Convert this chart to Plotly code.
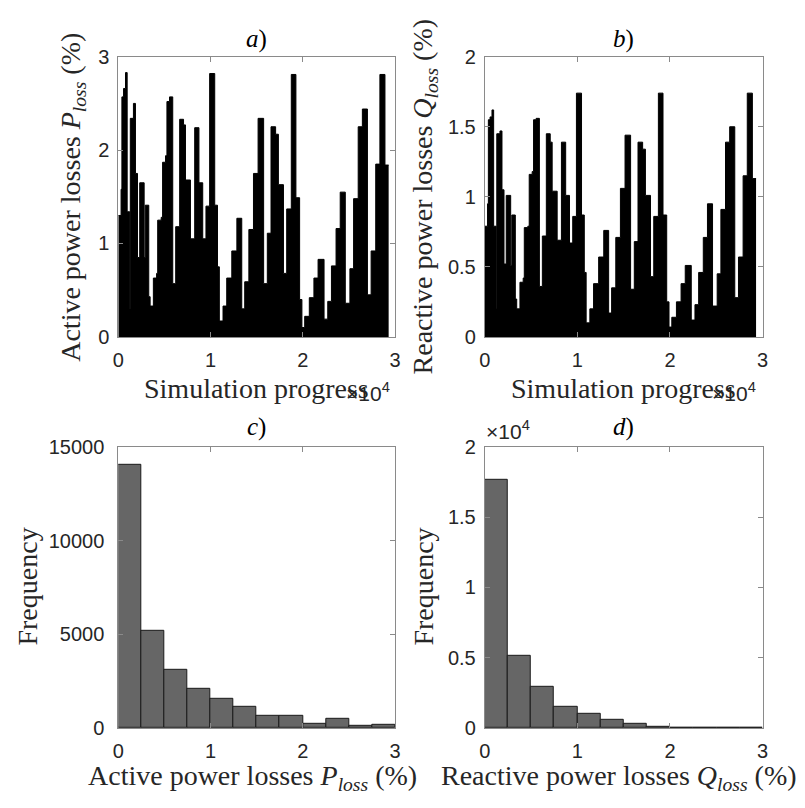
import plotly.graph_objects as go

# ---------------- data ----------------
# Envelope of the loss signals: start of each segment (simulation step) and peak level (%)
seg_start = [0, 300, 390, 570, 780, 960, 1230, 1300, 1640, 1860, 2080, 2320, 2800, 2920,
             3300, 3450, 3800, 4150, 4270, 4650, 4800, 5120, 5270, 5550, 5900, 6220,
             6650, 7070, 7280, 7820, 8280, 8740, 9150, 9500, 9900, 10450, 10750, 10950,
             11350, 11750, 12300, 12850, 13380, 13700, 14150, 14650, 15150, 15750, 16150,
             16550, 17050, 17350, 17900, 18250, 18750, 19250, 19650, 19900, 20200, 20700,
             21200, 21650, 22300, 22700, 23100, 23600, 24050, 24600, 25100, 25500, 26000,
             26450, 27000, 27400, 27900, 28350, 28900]
seg_end = 29300
p_peak = [1.30, 1.58, 2.57, 2.66, 2.83, 1.34, 0.30, 2.34, 2.50, 1.75, 0.85, 1.65, 0.85, 1.41,
          0.43, 0.33, 0.63, 0.68, 1.25, 1.28, 1.87, 1.94, 2.52, 2.57, 0.57, 1.18,
          2.33, 2.27, 1.68, 1.05, 2.24, 1.65, 1.05, 1.40, 2.82, 1.41, 0.75, 0.17,
          0.33, 0.63, 0.92, 1.27, 0.30, 0.59, 1.15, 1.75, 2.34, 0.57, 1.11,
          2.25, 2.17, 1.63, 0.68, 1.37, 2.81, 1.49, 0.40, 0.10, 0.22, 0.42,
          0.63, 0.83, 0.19, 0.38, 0.76, 1.16, 1.55, 0.36, 0.73, 1.48, 2.25,
          2.44, 0.45, 0.92, 1.85, 2.81, 1.84]
q_peak = [0.79, 0.95, 1.55, 1.57, 1.62, 0.79, 0.20, 1.45, 1.47, 1.05, 0.52, 1.01, 0.51, 0.87,
          0.27, 0.20, 0.39, 0.42, 0.78, 0.79, 1.16, 1.18, 1.55, 1.56, 0.36, 0.72,
          1.45, 1.39, 1.04, 0.69, 1.39, 1.01, 0.67, 0.86, 1.74, 0.87, 0.46, 0.10,
          0.20, 0.38, 0.57, 0.76, 0.17, 0.35, 0.71, 1.06, 1.44, 0.34, 0.68,
          1.39, 1.34, 1.01, 0.43, 0.86, 1.74, 0.87, 0.25, 0.07, 0.14, 0.25,
          0.38, 0.51, 0.12, 0.23, 0.46, 0.71, 0.95, 0.22, 0.45, 0.91, 1.39,
          1.50, 0.28, 0.57, 1.15, 1.74, 1.13]

# Histograms (bin width 0.25 %)
bin_edges = [0, 0.25, 0.5, 0.75, 1.0, 1.25, 1.5, 1.75, 2.0, 2.25, 2.5, 2.75, 3.0]
p_counts = [14050, 5170, 3090, 2080, 1530, 1130, 660, 640, 225, 470, 90, 170]
q_counts = [17620, 5160, 2960, 1530, 1040, 580, 300, 60, 30, 15, 5, 5]

x_ticks = [0, 1, 2, 3]

# ---------------- figure ----------------
W, H = 805, 808
def px_x(p): return p / W
def px_y(p): return 1 - p / H

dom_left = [px_x(114), px_x(395)]
dom_right = [px_x(486), px_x(768)]
dom_top = [px_y(335), px_y(47)]
dom_bot = [px_y(737), px_y(448)]

fig = go.Figure()

sx = seg_start + [seg_end]
fig.add_trace(go.Scatter(x=sx, y=p_peak + [p_peak[-1]], mode="lines", line_shape="hv",
                         line=dict(color="black", width=1), fill="tozeroy",
                         fillcolor="black", xaxis="x", yaxis="y", showlegend=False))
fig.add_trace(go.Scatter(x=sx, y=q_peak + [q_peak[-1]], mode="lines", line_shape="hv",
                         line=dict(color="black", width=1), fill="tozeroy",
                         fillcolor="black", xaxis="x2", yaxis="y2", showlegend=False))

centers = [(bin_edges[i] + bin_edges[i + 1]) / 2 for i in range(len(bin_edges) - 1)]
widths = [bin_edges[i + 1] - bin_edges[i] for i in range(len(bin_edges) - 1)]
for cnts, xa, ya in [(p_counts, "x3", "y3"), (q_counts, "x4", "y4")]:
    fig.add_trace(go.Bar(x=centers, y=cnts, width=widths, marker=dict(color="#666666",
                         line=dict(color="#1a1a1a", width=1)), xaxis=xa, yaxis=ya,
                         showlegend=False))

axcol = "#8a8a8a"
tickfont = dict(family="Liberation Sans, Arial, sans-serif", size=20, color="#262626")
common = dict(showline=True, linecolor=axcol, linewidth=1, mirror="ticks", ticks="inside",
              ticklen=5, tickcolor=axcol, tickwidth=1, showgrid=False, zeroline=False,
              tickfont=tickfont, fixedrange=True)
xcommon = dict(common, ticklabelstandoff=5)
ycommon = dict(common, ticklabelstandoff=4)

fig.update_layout(
    width=W, height=H, margin=dict(l=0, r=0, t=0, b=0),
    paper_bgcolor="white", plot_bgcolor="white", bargap=0,
    xaxis=dict(domain=dom_left, anchor="y", range=[0, 30000],
               tickvals=[v * 10000 for v in x_ticks], ticktext=[str(v) for v in x_ticks], **xcommon),
    yaxis=dict(domain=dom_top, anchor="x", range=[0, 3], tickvals=[0, 1, 2, 3], **ycommon),
    xaxis2=dict(domain=dom_right, anchor="y2", range=[0, 30000],
                tickvals=[v * 10000 for v in x_ticks], ticktext=[str(v) for v in x_ticks], **xcommon),
    yaxis2=dict(domain=dom_top, anchor="x2", range=[0, 2], tickvals=[0, 0.5, 1, 1.5, 2],
                ticktext=["0", "0.5", "1", "1.5", "2"], **ycommon),
    xaxis3=dict(domain=dom_left, anchor="y3", range=[0, 3], tickvals=x_ticks, **xcommon),
    yaxis3=dict(domain=dom_bot, anchor="x3", range=[0, 15000], tickvals=[0, 5000, 10000, 15000],
                ticktext=["0", "5000", "10000", "15000"], **dict(ycommon, ticklabelstandoff=9)),
    xaxis4=dict(domain=dom_right, anchor="y4", range=[0, 3], tickvals=x_ticks, **xcommon),
    yaxis4=dict(domain=dom_bot, anchor="x4", range=[0, 20000],
                tickvals=[0, 5000, 10000, 15000, 20000], ticktext=["0", "0.5", "1", "1.5", "2"], **ycommon),
)

serif = "Liberation Serif, Times New Roman, serif"
lab = dict(family=serif, size=28, color="#262626")
ttl = dict(family=serif, size=25, color="black")
sans = dict(family="Liberation Sans, Arial, sans-serif", size=21, color="#262626")

def ann(text, x, y, font, angle=0, xanchor="center", yanchor="middle"):
    fig.add_annotation(text=text, x=px_x(x), y=px_y(y), xref="paper", yref="paper",
                       showarrow=False, font=font, textangle=angle,
                       xanchor=xanchor, yanchor=yanchor)

# titles
ann("<i>a</i>)", 254, 29, ttl)
ann("<i>b</i>)", 627, 29, ttl)
ann("<i>c</i>)", 254, 428, ttl)
ann("<i>d</i>)", 627, 428, ttl)

# x labels
ann("Simulation progress", 254, 388, lab)
ann("Simulation progress", 627, 388, lab)
ann("Active power losses <i>P</i><sub><i>loss</i></sub> (%)", 250, 788, lab)
ann("Reactive power losses <i>Q</i><sub><i>loss</i></sub> (%)", 622, 788, lab)

# y labels
ann("Active power losses <i>P</i><sub><i>loss</i></sub> (%)", 68, 191, lab, angle=-90)
ann("Reactive power losses <i>Q</i><sub><i>loss</i></sub> (%)", 425, 191, lab, angle=-90)
ann("Frequency", 22, 592, lab, angle=-90)
ann("Frequency", 424, 592, lab, angle=-90)

# exponent labels
ann("×10<sup>4</sup>", 343, 392, sans, xanchor="left")
ann("×10<sup>4</sup>", 715, 392, sans, xanchor="left")
ann("×10<sup>4</sup>", 485, 431, sans, xanchor="left")

fig.write_html("out.html")
